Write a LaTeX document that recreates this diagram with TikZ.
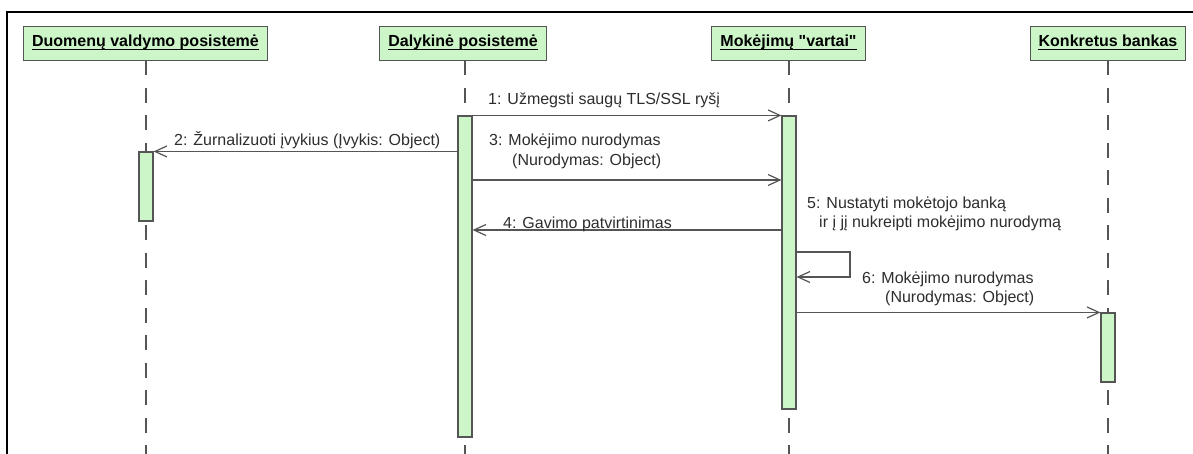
\documentclass[tikz,border=0pt]{standalone}
\usepackage{fontspec}
\setmainfont{Liberation Sans}[Ligatures=TeXOff]
\usetikzlibrary{arrows.meta}
\definecolor{umlfill}{RGB}{204,246,200}
\definecolor{umlline}{RGB}{85,85,85}
\definecolor{msgtext}{RGB}{45,45,45}

\begin{document}
\begin{tikzpicture}[x=1pt,y=-1pt,
  header/.style={draw=umlline, line width=1pt, fill=umlfill, inner xsep=8.5pt, inner ysep=0pt,
    minimum height=34pt, text height=11pt, text depth=5pt,
    font=\fontsize{16}{19}\selectfont\bfseries},
  actbar/.style={draw=umlline, line width=1.1pt, fill=umlfill, minimum width=14pt, inner sep=0pt},
  lifeline/.style={draw=umlline, line width=1.2pt, dash pattern=on 15pt off 12.5pt},
  msg/.style={draw=umlline, line width=1.2pt, -{Straight Barb[length=12pt,width=11pt,line width=1.2pt]}},
  lbl/.style={anchor=base west, inner sep=0pt, text=msgtext, font=\fontsize{16}{19}\selectfont},
]
\useasboundingbox (0,0) rectangle (1193,453);

% outer frame
\draw[line width=2pt] (7,460) -- (7,11.5) -- (1200,11.5);

% participants
\node[header] (h1) at (145.5,43) {Duomenų valdymo posistemė};
\node[header] (h2) at (463,43) {Dalykinė posistemė};
\node[header] (h3) at (788.5,43) {Mokėjimų "vartai"};
\node[header] (h4) at (1108,43) {Konkretus bankas};
\foreach \h in {h1,h2,h3,h4}
  \draw[line width=1.2pt] ([xshift=8.5pt,yshift=-3.8pt]\h.base west) -- ([xshift=-8.5pt,yshift=-3.8pt]\h.base east);

% lifelines
\foreach \h/\x in {h1/146,h2/465,h3/789,h4/1108}
  \draw[lifeline] (\x,60) -- (\x,460);

% activation bars
\node[actbar, minimum height=69pt]  (bar1) at (146,186.5) {};
\node[actbar, minimum height=321pt] (bar2) at (465,276.5) {};
\node[actbar, minimum height=293pt] (bar3) at (789,262.5) {};
\node[actbar, minimum height=69pt]  (bar4) at (1108,347.5) {};

% message levels
\coordinate (y3) at (0,180);
\coordinate (y4) at (0,230);
\coordinate (loopR) at (850,252);
\coordinate (loopB) at (850,277);

% messages
\draw[msg] (bar2.north east) -- (bar3.north west);
\draw[msg] (bar2.west |- bar1.north) -- (bar1.north east);
\draw[msg] (bar2.east |- y3) -- (bar3.west |- y3);
\draw[msg] (bar3.west |- y4) -- (bar2.east |- y4);
\draw[msg] (bar3.east |- loopR) -- (loopR) -- (loopB) -- (bar3.east |- loopB);
\draw[msg] (bar3.east |- bar4.north) -- (bar4.north west);

% message labels
\node[lbl] (l1)  at (488,104) {1: Užmegsti saugų TLS/SSL ryšį};
\node[lbl] (l2)  at (174,145) {2: Žurnalizuoti įvykius (Įvykis: Object)};
\node[lbl] (l3a) at (489,145) {3: Mokėjimo nurodymas};
\node[lbl] (l3b) at (512,165) {(Nurodymas: Object)};
\node[lbl] (l4)  at (503,228) {4: Gavimo patvirtinimas};
\node[lbl] (l5a) at (807,208) {5: Nustatyti mokėtojo banką};
\node[lbl] (l5b) at (819,227) {ir į jį nukreipti mokėjimo nurodymą};
\node[lbl] (l6a) at (862,283) {6: Mokėjimo nurodymas};
\node[lbl] (l6b) at (885,302) {(Nurodymas: Object)};
\end{tikzpicture}
\end{document}
